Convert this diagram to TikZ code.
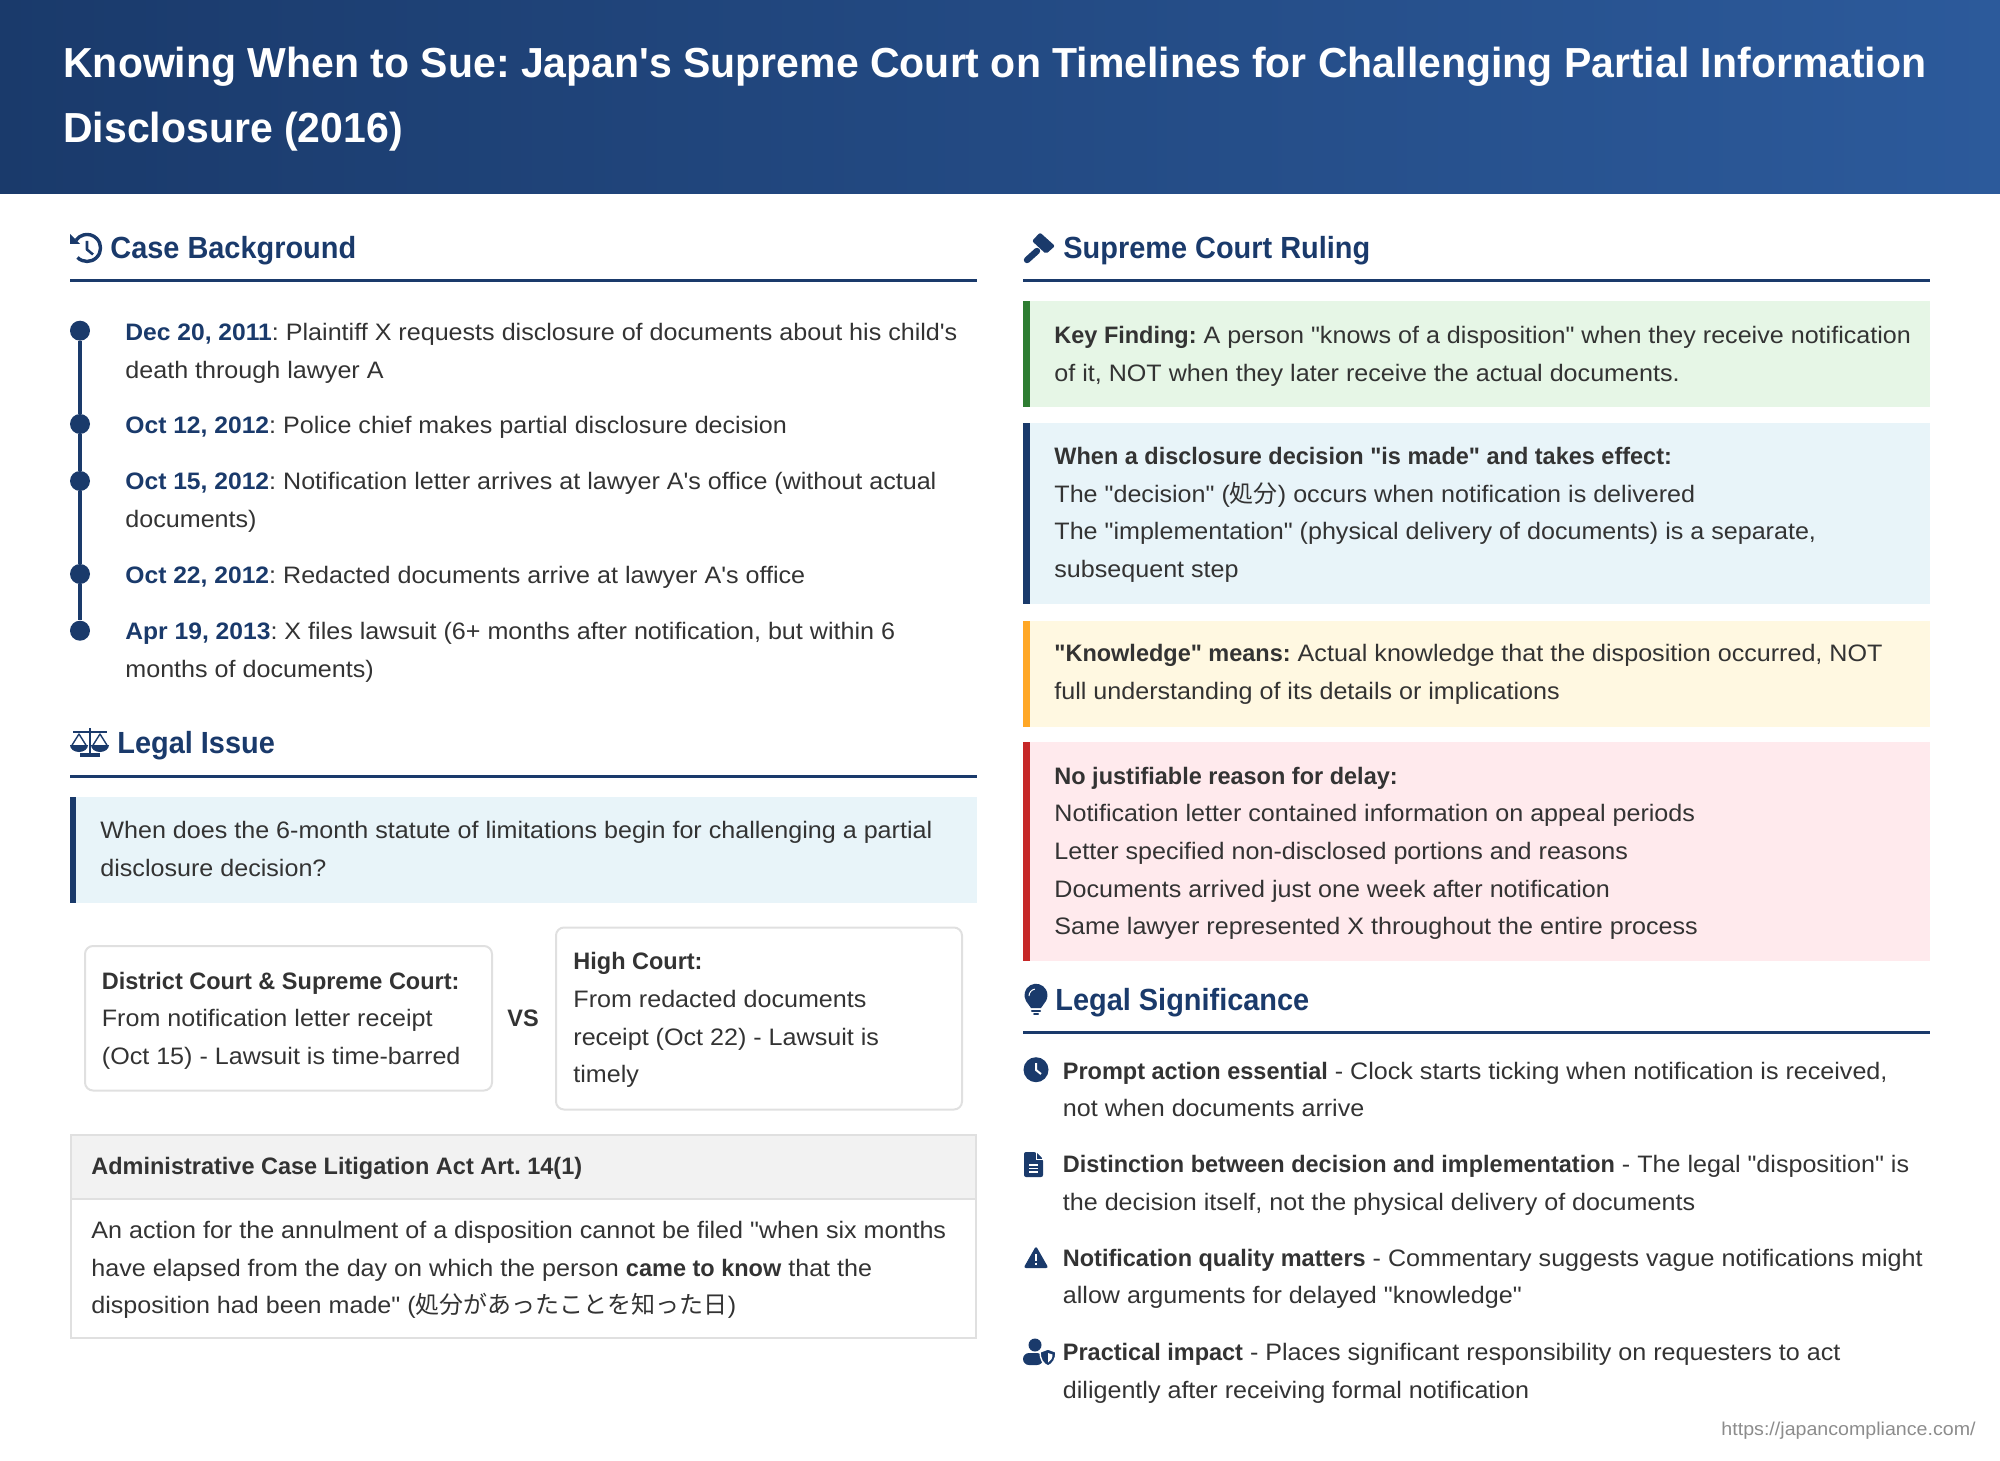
\documentclass[tikz,border=0pt]{standalone}
\usepackage{fontspec}
\newfontfamily\rbt[FakeStretch=1.055]{Liberation Sans}
\newfontfamily\rbtb[FakeStretch=0.987,UprightFont=* Bold]{Liberation Sans}
\newfontfamily\rbtd[FakeStretch=1.035,UprightFont=* Bold]{Liberation Sans}
\newfontfamily\rbth[FakeStretch=0.945,UprightFont=* Bold]{Liberation Sans}
\newfontfamily\rbtt[FakeStretch=0.976,UprightFont=* Bold]{Liberation Sans}
\newfontfamily\cjk{Noto Sans CJK JP}
\definecolor{navy}{HTML}{1A3A6B}
\definecolor{headblue}{HTML}{2C5A9B}
\definecolor{inktxt}{HTML}{333333}
\definecolor{paleblue}{HTML}{E8F4F9}
\definecolor{palegreen}{HTML}{E6F6E6}
\definecolor{barG}{HTML}{2E7D32}
\definecolor{paleyellow}{HTML}{FFF8E1}
\definecolor{barY}{HTML}{FFA726}
\definecolor{palered}{HTML}{FFEAED}
\definecolor{barR}{HTML}{C62828}
\definecolor{edgegray}{HTML}{E0E0E0}
\newcommand{\kanji}[1]{{\cjk\fontsize{12pt}{14pt}\selectfont #1}}
\newcommand{\dated}[1]{\textcolor{navy}{\rbtd #1}}
\tikzset{
	bodytxt/.style={anchor=base west,inner sep=0pt,yshift=-0.25pt,text=inktxt,font=\rbt\frenchspacing\fontsize{11.9pt}{14pt}\selectfont},
	headtxt/.style={anchor=base west,inner sep=0pt,text=navy,font=\rbth\fontsize{15.3pt}{20pt}\selectfont},
	titletxt/.style={anchor=base west,inner sep=0pt,text=white,font=\rbtt\frenchspacing\fontsize{21pt}{26pt}\selectfont},
	dot/.style={circle,fill=navy,inner sep=0pt,minimum size=10pt},
	headrule/.style={navy,line width=1.5pt},
	iconln/.style={navy,line width=1.3pt,line join=round},
	cutln/.style={white,line width=1pt},
}
\begin{document}
\begin{tikzpicture}[x=0.5pt,y=-0.5pt]
\useasboundingbox (0,0) rectangle (2000,1460);
\shade[left color=navy,right color=headblue] (0,0) rectangle (2000,193.5);
\node[titletxt] (title1) at (63,78) {Knowing When to Sue: Japan's Supreme Court on Timelines for Challenging Partial Information};
\node[titletxt] (title2) at (63,143) {Disclosure (2016)};
% left column
\node[headtxt] (bghead) at (110,258.5) {Case Background};
\draw[headrule] (70,280.6) -- (977,280.6);
\draw[iconln,line width=1.7pt] (77.5,257.5) arc[start angle=135,end angle=-145,radius=13.5];
\fill[navy] (70,234) -- (70,244) -- (80,244) -- cycle;
\draw[iconln] (87,241) -- (87,249.5) -- (93,254.5);
\foreach \n/\y in {1/330.7,2/424,3/481,4/574,5/630.7} {
	\node[dot] (d\n) at (80,\y) {};
}
\foreach \a/\b in {1/2,2/3,3/4,4/5} {
	\draw[navy,line width=2pt] (d\a) -- (d\b);
}
\node[bodytxt] (t1a) at (125,340) {\dated{Dec 20, 2011}: Plaintiff X requests disclosure of documents about his child's};
\node[bodytxt] (t1b) at (125,377.7) {death through lawyer A};
\node[bodytxt] (t2a) at (125,433) {\dated{Oct 12, 2012}: Police chief makes partial disclosure decision};
\node[bodytxt] (t3a) at (125,489) {\dated{Oct 15, 2012}: Notification letter arrives at lawyer A's office (without actual};
\node[bodytxt] (t3b) at (125,526.7) {documents)};
\node[bodytxt] (t4a) at (125,583) {\dated{Oct 22, 2012}: Redacted documents arrive at lawyer A's office};
\node[bodytxt] (t5a) at (125,639) {\dated{Apr 19, 2013}: X files lawsuit (6+ months after notification, but within 6};
\node[bodytxt] (t5b) at (125,676.5) {months of documents)};
\node[headtxt] (ishead) at (117,753.5) {Legal Issue};
\draw[headrule] (70,776) -- (977,776);
\draw[iconln] (90,728) -- (90,753) (73,732) -- (107,732);
\draw[iconln,line width=1.7pt] (80,755) -- (100,755);
\foreach \cx in {79,100} {
	\draw[iconln,line width=.7pt] (\cx,734) -- (\cx-7.5,746) -- (\cx+7.5,746) -- cycle;
	\fill[navy] (\cx-9,745) -- (\cx+9,745) arc[start angle=0,end angle=180,x radius=9,y radius=7] -- cycle;
}
\fill[paleblue] (70,797) rectangle (977,903);
\fill[navy] (70,797) rectangle (76,903);
\node[bodytxt] (q1) at (100,838) {When does the 6-month statute of limitations begin for challenging a partial};
\node[bodytxt] (q2) at (100,875.5) {disclosure decision?};
\draw[edgegray,line width=1pt,rounded corners=4pt] (85,946) rectangle (492,1090.5);
\draw[edgegray,line width=1pt,rounded corners=4pt] (556,927.5) rectangle (962,1109.5);
\node[bodytxt] (dc1) at (101.5,988.5) {{\rbtb District Court \& Supreme Court:}};
\node[bodytxt] (dc2) at (101.5,1025.5) {From notification letter receipt};
\node[bodytxt] (dc3) at (101.5,1063.5) {(Oct 15) - Lawsuit is time-barred};
\node[bodytxt] (hc1) at (573,968.5) {{\rbtb High Court:}};
\node[bodytxt] (hc2) at (573,1006.5) {From redacted documents};
\node[bodytxt] (hc3) at (573,1044.5) {receipt (Oct 22) - Lawsuit is};
\node[bodytxt] (hc4) at (573,1082) {timely};
\node[bodytxt,anchor=base] (vs) at (523,1026) {{\rbtb VS}};
\fill[black!5] (71,1135) rectangle (976,1199);
\draw[edgegray,line width=1pt] (71,1135) rectangle (976,1337.5) (71,1199) -- (976,1199);
\node[bodytxt] (lawh) at (91,1174) {{\rbtb Administrative Case Litigation Act Art. 14(1)}};
\node[bodytxt] (law1) at (91,1238) {An action for the annulment of a disposition cannot be filed "when six months};
\node[bodytxt] (law2) at (91,1275.5) {have elapsed from the day on which the person {\rbtb came to know} that the};
\node[bodytxt] (law3) at (91,1313) {disposition had been made" (\kanji{処分があったことを知った日})};
% right column
\node[headtxt] (ruhead) at (1063,258.5) {Supreme Court Ruling};
\draw[headrule] (1023,280.6) -- (1930,280.6);
\fill[navy,rounded corners=1pt] (1040,232.5) -- (1055,246) -- (1046,254) -- (1032,241) -- cycle;
\draw[navy,line width=3.2pt,line cap=round] (1037,251) -- (1027,260);
\foreach \top/\bot/\pale/\bar in {301/407.3/palegreen/barG,422.7/604/paleblue/navy,620.5/726.5/paleyellow/barY,742/960.5/palered/barR} {
	\fill[\pale] (1023,\top) rectangle (1930,\bot);
	\fill[\bar] (1023,\top) rectangle (1030,\bot);
}
\node[bodytxt] (k1) at (1054,342.7) {{\rbtb Key Finding:} A person "knows of a disposition" when they receive notification};
\node[bodytxt] (k2) at (1054,380.7) {of it, NOT when they later receive the actual documents.};
\node[bodytxt] (m1) at (1054,464) {{\rbtb When a disclosure decision "is made" and takes effect:}};
\node[bodytxt] (m2) at (1054,501.6) {The "decision" (\kanji{処分}) occurs when notification is delivered};
\node[bodytxt] (m3) at (1054,539.2) {The "implementation" (physical delivery of documents) is a separate,};
\node[bodytxt] (m4) at (1054,576.8) {subsequent step};
\node[bodytxt] (w1) at (1054,661) {{\rbtb "Knowledge" means:} Actual knowledge that the disposition occurred, NOT};
\node[bodytxt] (w2) at (1054,699) {full understanding of its details or implications};
\node[bodytxt] (r1) at (1054,783.7) {{\rbtb No justifiable reason for delay:}};
\node[bodytxt] (r2) at (1054,821.3) {Notification letter contained information on appeal periods};
\node[bodytxt] (r3) at (1054,858.9) {Letter specified non-disclosed portions and reasons};
\node[bodytxt] (r4) at (1054,896.5) {Documents arrived just one week after notification};
\node[bodytxt] (r5) at (1054,934) {Same lawyer represented X throughout the entire process};
\node[headtxt] (sghead) at (1055,1010) {Legal Significance};
\draw[headrule] (1023,1032) -- (1930,1032);
\fill[navy] (1031,1008) -- (1026,1001) arc[start angle=150,end angle=390,radius=11.5] -- (1041,1008) -- cycle;
\draw[white,line width=.5pt] (1029,996) arc[start angle=180,end angle=260,radius=7];
\draw[navy,line width=1.1pt,line cap=round] (1032,1011) -- (1040,1011);
\draw[navy,line width=1pt,line cap=round] (1034,1014) -- (1038,1014);
\node[circle,fill=navy,inner sep=0pt,minimum size=12.5pt] (clockic) at (1036,1069.7) {};
\draw[cutln] (1036,1063) -- (1036,1070) -- (1041,1074);
\fill[navy,rounded corners=1pt] (1024,1152) -- (1036,1152) -- (1043,1159) -- (1043,1177) -- (1024,1177) -- cycle;
\draw[white,line width=.5pt] (1036,1152) -- (1036,1159) -- (1043,1159);
\draw[cutln,line width=.6pt] (1029,1165) -- (1038,1165) (1029,1168.5) -- (1038,1168.5) (1029,1172) -- (1038,1172);
\fill[navy,rounded corners=1.2pt] (1036,1246) -- (1048.5,1268) -- (1023.5,1268) -- cycle;
\draw[cutln,line width=1.1pt] (1036,1254) -- (1036,1261) (1036,1262.5) -- (1036,1265);
\node[circle,fill=navy,inner sep=0pt,minimum size=6.5pt] (userhead) at (1035,1345) {};
\fill[navy,rounded corners=3pt] (1023,1365) -- (1023,1353) -- (1043,1353) -- (1043,1365) -- cycle;
\fill[navy,draw=white,line width=.7pt] (1048,1349) -- (1056,1352) .. controls (1056,1359) and (1053,1364) .. (1048,1366) .. controls (1043,1364) and (1040,1359) .. (1040,1352) -- cycle;
\fill[white] (1048,1353) -- (1052.5,1354.5) .. controls (1052.5,1358) and (1051,1361) .. (1048,1362.5) -- cycle;
\node[bodytxt] (s1a) at (1062.5,1078.7) {{\rbtb Prompt action essential} - Clock starts ticking when notification is received,};
\node[bodytxt] (s1b) at (1062.5,1116) {not when documents arrive};
\node[bodytxt] (s2a) at (1062.5,1172) {{\rbtb Distinction between decision and implementation} - The legal "disposition" is};
\node[bodytxt] (s2b) at (1062.5,1210) {the decision itself, not the physical delivery of documents};
\node[bodytxt] (s3a) at (1062.5,1266) {{\rbtb Notification quality matters} - Commentary suggests vague notifications might};
\node[bodytxt] (s3b) at (1062.5,1303) {allow arguments for delayed "knowledge"};
\node[bodytxt] (s4a) at (1062.5,1360) {{\rbtb Practical impact} - Places significant responsibility on requesters to act};
\node[bodytxt] (s4b) at (1062.5,1397.7) {diligently after receiving formal notification};
\node[anchor=base east,inner sep=0pt,text=black!45,font=\rbt\fontsize{9.3pt}{12pt}\selectfont] (url) at (1976,1435) {https://japancompliance.com/};
\end{tikzpicture}
\end{document}
